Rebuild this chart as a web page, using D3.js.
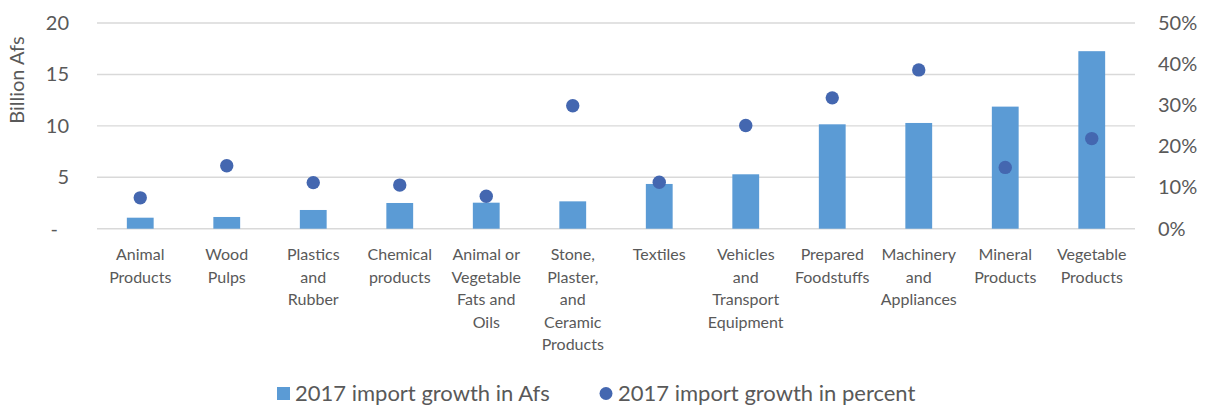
<!DOCTYPE html>
<html><head><meta charset="utf-8">
<script src="https://cdn.jsdelivr.net/npm/d3@7"></script>
<style>
body{margin:0;background:#fff;}
svg{display:block;font-family:Lato, "Open Sans", sans-serif;}
</style></head>
<body><svg id="c" width="1210" height="407"></svg>
<script>
const categories = ["Animal Products","Wood Pulps","Plastics and Rubber","Chemical products","Animal or Vegetable Fats and Oils","Stone, Plaster, and Ceramic Products","Textiles","Vehicles and Transport Equipment","Prepared Foodstuffs","Machinery and Appliances","Mineral Products","Vegetable Products"];
const categoryLabelLines = [["Animal","Products"],["Wood","Pulps"],["Plastics","and","Rubber"],["Chemical","products"],["Animal or","Vegetable","Fats and","Oils"],["Stone,","Plaster,","and","Ceramic","Products"],["Textiles"],["Vehicles","and","Transport","Equipment"],["Prepared","Foodstuffs"],["Machinery","and","Appliances"],["Mineral","Products"],["Vegetable","Products"]];
const growthAfs = [1.07,1.14,1.82,2.5,2.53,2.66,4.35,5.29,10.15,10.28,11.87,17.26];
const growthPct = [7.5,15.3,11.2,10.6,7.9,29.9,11.3,25.1,31.8,38.6,14.9,21.9];
const leftTicks = [0,5,10,15,20];
const rightTicks = [0,10,20,30,40,50];
const seriesNames = ["2017 import growth in Afs","2017 import growth in percent"];

const svg = d3.select("#c");
const L = 97, R = 1135, T = 23, B = 228.7;
const textColor = "#595959";
const x = d3.scaleBand().domain(categories).range([L,R]).paddingInner(0.69).paddingOuter(0.345);
const yL = d3.scaleLinear().domain([0,20]).range([B,T]);
const yR = d3.scaleLinear().domain([0,50]).range([B,T]);

// gridlines
svg.append("g").selectAll("line").data(leftTicks).join("line")
  .attr("x1",L).attr("x2",R).attr("y1",d=>yL(d)).attr("y2",d=>yL(d))
  .attr("stroke","#d9d9d9").attr("stroke-width",1.4);

// left axis
const gl = svg.append("g").attr("transform",`translate(69,0)`)
  .call(d3.axisLeft(yL).tickValues(leftTicks).tickSize(0).tickPadding(0).tickFormat(d=>d===0?"-":d));
gl.select(".domain").remove();
gl.selectAll("text").attr("fill",textColor).style("font-size","20px").style("font-family","Lato, sans-serif")
  .attr("dx",d=>d===0?-11:0);

// right axis
const gr = svg.append("g").attr("transform",`translate(1158,0)`)
  .call(d3.axisRight(yR).tickValues(rightTicks).tickSize(0).tickPadding(0).tickFormat(d=>d+"%"));
gr.select(".domain").remove();
gr.selectAll("text").attr("fill",textColor).style("font-size","20px").style("font-family","Lato, sans-serif");

// y title
svg.append("text").attr("transform","translate(24,80) rotate(-90)").attr("text-anchor","middle")
  .attr("fill",textColor).style("font-size","20px").text("Billion Afs");

// bars
svg.append("g").selectAll("rect").data(categories).join("rect")
  .attr("x",d=>x(d)).attr("width",x.bandwidth())
  .attr("y",(d,i)=>yL(growthAfs[i])).attr("height",(d,i)=>B-yL(growthAfs[i]))
  .attr("fill","#5b9bd5");

// dots
svg.append("g").selectAll("circle").data(categories).join("circle")
  .attr("cx",d=>x(d)+x.bandwidth()/2).attr("cy",(d,i)=>yR(growthPct[i])).attr("r",6.7)
  .attr("fill","#4467b0");

// category labels
const cl = svg.append("g").selectAll("text").data(categories).join("text")
  .attr("text-anchor","middle").attr("fill",textColor).style("font-size","16px")
  .attr("x",d=>x(d)+x.bandwidth()/2).attr("y",260);
cl.each(function(d,i){
  const t = d3.select(this);
  categoryLabelLines[i].forEach((ln,j)=>{
    t.append("tspan").attr("x",x(d)+x.bandwidth()/2).attr("y",260+j*22.6).text(ln);
  });
});

// legend
const lg = svg.append("g");
lg.append("rect").attr("x",277).attr("y",387).attr("width",13).attr("height",13).attr("fill","#5b9bd5");
lg.append("text").attr("x",295).attr("y",401).attr("fill",textColor).style("font-size","22px").text(seriesNames[0]);
lg.append("circle").attr("cx",606).attr("cy",393.5).attr("r",6.5).attr("fill","#4467b0");
lg.append("text").attr("x",618).attr("y",401).attr("fill",textColor).style("font-size","22px").text(seriesNames[1]);
</script></body></html>
